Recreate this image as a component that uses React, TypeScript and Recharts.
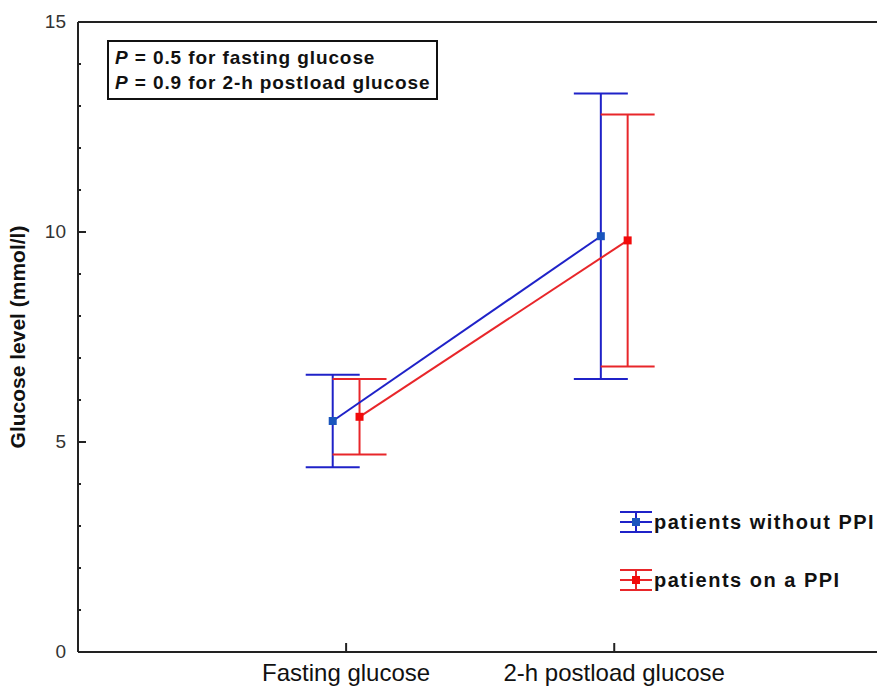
import { ComposedChart, Scatter, XAxis, YAxis, ErrorBar, ReferenceLine } from 'recharts';

// group labels on the x axis and their slots
const categories = ['Fasting glucose', '2-h postload glucose'];
const categorySlots = [1, 2];

// patients without PPI
const withoutMean = [5.5, 9.9];
const withoutLow = [4.4, 6.5];
const withoutHigh = [6.6, 13.3];

// patients on a PPI
const onMean = [5.6, 9.8];
const onLow = [4.7, 6.8];
const onHigh = [6.5, 12.8];

const yTicks = [0, 1, 2, 3, 4, 5, 6, 7, 8, 9, 10, 11, 12, 13, 14, 15];
const yLabelled = [0, 5, 10, 15];
const pLines = [
  { p: '0.5', text: 'for fasting glucose' },
  { p: '0.9', text: 'for 2-h postload glucose' },
];

const BLUE = '#1f22c8';
const BLUE_MARK = '#1a55bd';
const RED = '#e8262a';
const RED_MARK = '#f20a0a';
const DODGE = 0.05;
const FONT = '"Liberation Sans", Arial, sans-serif';

const build = (mean: number[], low: number[], high: number[], shift: number) =>
  mean.map((m, i) => ({
    x: categorySlots[i] + shift,
    y: m,
    err: [m - low[i], high[i] - m],
  }));

const withoutData = build(withoutMean, withoutLow, withoutHigh, -DODGE);
const onData = build(onMean, onLow, onHigh, DODGE);

const series = [
  { name: 'patients without PPI', line: BLUE, mark: BLUE_MARK },
  { name: 'patients on a PPI', line: RED, mark: RED_MARK },
];

function YTick(props: any) {
  const { x, y, payload } = props;
  const major = yLabelled.includes(payload.value);
  return (
    <g>
      <line x1={x} y1={y} x2={x + (major ? 8 : 3)} y2={y} stroke="#222" strokeWidth={2} />
      {major && (
        <text x={x - 12} y={y + 6} textAnchor="end" fontSize={19} fill="#333" fontFamily={FONT}>
          {payload.value}
        </text>
      )}
    </g>
  );
}

function XTick(props: any) {
  const { x, y, payload } = props;
  const idx = categorySlots.indexOf(payload.value);
  return (
    <g>
      <line x1={x} y1={y} x2={x} y2={y - 9} stroke="#222" strokeWidth={2} />
      <text x={x} y={y + 29} textAnchor="middle" fontSize={24} fill="#111" fontFamily={FONT}>
        {categories[idx]}
      </text>
    </g>
  );
}

function LegendBox() {
  return (
    <div style={{ position: 'absolute', left: 618, top: 493, fontFamily: FONT }}>
      {series.map((s) => (
        <div key={s.name} style={{ display: 'flex', alignItems: 'center', height: 58 }}>
          <svg width={36} height={26}>
            <line x1={2} y1={3} x2={34} y2={3} stroke={s.line} strokeWidth={2} />
            <line x1={2} y1={13} x2={34} y2={13} stroke={s.line} strokeWidth={2} />
            <line x1={2} y1={23} x2={34} y2={23} stroke={s.line} strokeWidth={2} />
            <line x1={18} y1={3} x2={18} y2={23} stroke={s.line} strokeWidth={2} />
            <rect x={14} y={9} width={8} height={8} fill={s.mark} />
          </svg>
          <span style={{ fontWeight: 'bold', fontSize: 20, letterSpacing: 1.5, color: '#111', whiteSpace: 'nowrap' }}>
            {s.name}
          </span>
        </div>
      ))}
    </div>
  );
}

export default function App() {
  return (
    <div style={{ position: 'absolute', left: 0, top: 0, width: 877, height: 687, background: '#fff', overflow: 'hidden' }}>
      <ComposedChart width={877} height={687} margin={{ top: 22, right: 0, bottom: 0, left: 0 }}>
        <XAxis
          type="number"
          dataKey="x"
          domain={[0, 2.98]}
          ticks={categorySlots}
          interval={0}
          tickSize={0}
          tickMargin={0}
          tick={<XTick />}
          tickLine={false}
          height={35}
          axisLine={{ stroke: '#222', strokeWidth: 2 }}
          allowDataOverflow
        />
        <YAxis
          type="number"
          dataKey="y"
          domain={[0, 15]}
          ticks={yTicks}
          interval={0}
          tickSize={0}
          tickMargin={0}
          tick={<YTick />}
          tickLine={false}
          width={78}
          axisLine={{ stroke: '#222', strokeWidth: 2 }}
        />
        <ReferenceLine y={15} stroke="#222" strokeWidth={2} />
        <Scatter
          name="patients without PPI"
          data={withoutData}
          fill={BLUE_MARK}
          shape="square"
          line={{ stroke: BLUE, strokeWidth: 2 }}
          isAnimationActive={false}
        >
          <ErrorBar dataKey="err" direction="y" width={27} stroke={BLUE} strokeWidth={2} />
        </Scatter>
        <Scatter
          name="patients on a PPI"
          data={onData}
          fill={RED_MARK}
          shape="square"
          line={{ stroke: RED, strokeWidth: 2 }}
          isAnimationActive={false}
        >
          <ErrorBar dataKey="err" direction="y" width={27} stroke={RED} strokeWidth={2} />
        </Scatter>
      </ComposedChart>

      <LegendBox />

      <div
        style={{
          position: 'absolute',
          left: 107,
          top: 40,
          width: 321,
          height: 53,
          border: '2px solid #111',
          fontFamily: FONT,
          fontWeight: 'bold',
          fontSize: 19,
          letterSpacing: 0.9,
          color: '#111',
          lineHeight: '25px',
          paddingLeft: 6,
          paddingTop: 3,
          boxSizing: 'content-box',
        }}
      >
        {pLines.map((l) => (
          <div key={l.p} style={{ whiteSpace: 'nowrap' }}>
            <i>P</i> = {l.p} {l.text}
          </div>
        ))}
      </div>

      <div
        style={{
          position: 'absolute',
          left: 18,
          top: 337,
          transform: 'translate(-50%, -50%) rotate(-90deg)',
          whiteSpace: 'nowrap',
          fontFamily: FONT,
          fontWeight: 'bold',
          fontSize: 21,
          color: '#111',
        }}
      >
        Glucose level (mmol/l)
      </div>
    </div>
  );
}
